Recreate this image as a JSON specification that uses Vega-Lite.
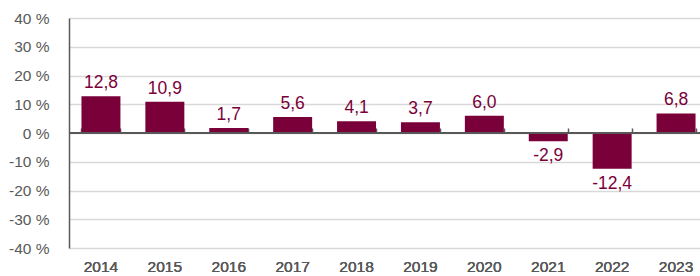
{
  "$schema": "https://vega.github.io/schema/vega-lite/v6.json",
  "width": 639,
  "height": 230,
  "padding": {"left": 8, "top": 11, "right": 0, "bottom": 0},
  "background": "white",
  "config": {
    "view": {"stroke": null},
    "locale": {"number": {"decimal": ",", "thousands": " ", "grouping": [3], "currency": ["", " €"], "minus": "-"}},
    "font": "Liberation Sans"
  },
  "data": {
    "values": [
      {"year": "2014", "value": 12.8},
      {"year": "2015", "value": 10.9},
      {"year": "2016", "value": 1.7},
      {"year": "2017", "value": 5.6},
      {"year": "2018", "value": 4.1},
      {"year": "2019", "value": 3.7},
      {"year": "2020", "value": 6.0},
      {"year": "2021", "value": -2.9},
      {"year": "2022", "value": -12.4},
      {"year": "2023", "value": 6.8}
    ]
  },
  "encoding": {
    "x": {
      "field": "year",
      "type": "nominal",
      "sort": null,
      "scale": {"paddingInner": 0.39, "paddingOuter": 0.195},
      "axis": {
        "orient": "bottom",
        "title": null,
        "labelAngle": 0,
        "domain": false,
        "ticks": false,
        "grid": false,
        "labelPadding": 11,
        "labelFontSize": 15.5,
        "labelFontWeight": "normal",
        "labelColor": "#595959",
        "labelFont": "Liberation Sans"
      }
    },
    "y": {
      "field": "value",
      "type": "quantitative",
      "scale": {"domain": [-40, 40], "nice": false},
      "axis": {
        "title": null,
        "values": [-40, -30, -20, -10, 0, 10, 20, 30, 40],
        "labelExpr": "datum.value + ' %'",
        "ticks": false,
        "labelPadding": 20,
        "labelFontSize": 15.5,
        "labelFontWeight": "normal",
        "labelColor": "#595959",
        "labelFont": "Liberation Sans",
        "domainColor": "#595959",
        "domainWidth": 1.5,
        "gridColor": "#d9d9d9",
        "gridWidth": 1.5
      }
    }
  },
  "layer": [
    {
      "mark": {"type": "bar", "color": "#7a0039"}
    },
    {
      "mark": {"type": "text", "color": "#7a0039", "fontSize": 17.5, "font": "Liberation Sans", "baseline": "bottom", "dy": -4},
      "transform": [{"filter": "datum.value >= 0"}],
      "encoding": {
        "text": {"field": "value", "type": "quantitative", "format": ".1f"}
      }
    },
    {
      "mark": {"type": "text", "color": "#7a0039", "fontSize": 17.5, "font": "Liberation Sans", "baseline": "top", "dy": 6},
      "transform": [{"filter": "datum.value < 0"}],
      "encoding": {
        "text": {"field": "value", "type": "quantitative", "format": ".1f"}
      }
    },
    {
      "mark": {"type": "rule", "color": "#595959", "strokeWidth": 1.5},
      "encoding": {
        "x": null,
        "y": {"datum": 0, "type": "quantitative"}
      }
    },
    {
      "mark": {"type": "tick", "opacity": 0},
      "encoding": {
        "x": {
          "field": "year",
          "type": "nominal",
          "sort": null,
          "axis": {
            "orient": "top",
            "offset": -115,
            "title": null,
            "labels": false,
            "domain": false,
            "ticks": true,
            "tickBand": "extent",
            "tickSize": 5,
            "tickColor": "#595959",
            "tickWidth": 1.5,
            "grid": false
          }
        },
        "y": {"datum": 0, "type": "quantitative"}
      }
    }
  ],
  "resolve": {"axis": {"x": "independent"}}
}
